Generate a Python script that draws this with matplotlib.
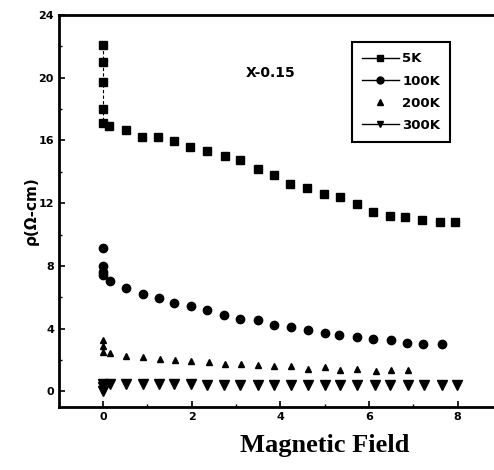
import numpy as np
import matplotlib.pyplot as plt
from matplotlib.lines import Line2D

# 5K
field_5k = [0, 0, 0, 0, 0, 0.14, 0.52, 0.87, 1.23, 1.59, 1.96, 2.35, 2.74, 3.1,
            3.5, 3.85, 4.22, 4.6, 4.98, 5.35, 5.73, 6.1, 6.48, 6.82, 7.19, 7.6, 7.95]
rho_5k = [22.1, 21.0, 19.75, 18.0, 17.1, 16.9, 16.65, 16.2, 16.2, 15.95, 15.6, 15.35, 15.0, 14.75,
          14.2, 13.8, 13.25, 13.0, 12.6, 12.4, 11.97, 11.45, 11.2, 11.1, 10.9, 10.8, 10.8]

# 100K
field_100k = [0, 0, 0, 0, 0.16, 0.52, 0.9, 1.25, 1.6, 1.98, 2.35, 2.73, 3.09,
              3.5, 3.85, 4.24, 4.63, 5.01, 5.33, 5.73, 6.1, 6.49, 6.85, 7.21, 7.64]
rho_100k = [9.17, 7.98, 7.6, 7.4, 7.04, 6.6, 6.22, 5.95, 5.63, 5.42, 5.17, 4.9, 4.64,
            4.53, 4.25, 4.1, 3.94, 3.72, 3.57, 3.47, 3.36, 3.25, 3.08, 3.04, 3.04]

# 200K
field_200k = [0, 0, 0, 0.16, 0.52, 0.9, 1.29, 1.63, 1.98, 2.38, 2.75, 3.11,
              3.5, 3.85, 4.24, 4.63, 5.01, 5.35, 5.73, 6.15, 6.49, 6.89]
rho_200k = [3.3, 2.9, 2.5, 2.44, 2.23, 2.19, 2.09, 1.98, 1.93, 1.87, 1.77, 1.77,
            1.66, 1.6, 1.6, 1.45, 1.55, 1.38, 1.45, 1.3, 1.34, 1.34]

# 300K
field_300k = [0, 0, 0, 0.16, 0.52, 0.9, 1.25, 1.6, 1.98, 2.35, 2.73, 3.1,
              3.5, 3.85, 4.24, 4.63, 5.0, 5.35, 5.73, 6.13, 6.47, 6.89, 7.24, 7.64, 7.98]
rho_300k = [0.5, 0.25, 0.0, 0.47, 0.47, 0.45, 0.45, 0.44, 0.45, 0.43, 0.43, 0.43,
            0.42, 0.42, 0.42, 0.42, 0.42, 0.42, 0.42, 0.42, 0.42, 0.42, 0.42, 0.42, 0.42]

labels = ["5K", "100K", "200K", "300K"]

fig = plt.figure(figsize=(4.94, 4.70), dpi=100)
ax = fig.add_axes([0.119, 0.134, 0.881, 0.834])

# short connecting segment of the 5K points at zero field
ax.plot(field_5k[:5], rho_5k[:5], '-', color='black', lw=0.8, dashes=(3, 2))

ax.plot(field_5k, rho_5k, 's', color='black', ms=6, ls='none')
ax.plot(field_100k, rho_100k, 'o', color='black', ms=6, ls='none')
ax.plot(field_200k, rho_200k, '^', color='black', ms=5, ls='none')
ax.plot(field_300k, rho_300k, 'v', color='black', ms=6.5, ls='none')

ax.set_xlim(-1, 8.82)
ax.set_ylim(-1, 24)
ax.set_xticks([0, 2, 4, 6, 8])
ax.set_xticks([1, 3, 5, 7], minor=True)
ax.set_yticks([0, 4, 8, 12, 16, 20, 24])
ax.set_yticks([2, 6, 10, 14, 18, 22], minor=True)
ax.tick_params(direction='in', width=1.2, length=4, labelsize=8)
ax.tick_params(which='minor', direction='in', width=1, length=2.5)
for lab in ax.get_xticklabels() + ax.get_yticklabels():
    lab.set_fontweight('bold')

for s in ['top', 'left', 'bottom']:
    ax.spines[s].set_linewidth(2)
ax.spines['right'].set_visible(False)

ax.text(3.77, 20.3, "X-0.15", fontsize=10, fontweight='bold', ha='center', va='center')

ax.set_ylabel("ρ(Ω-cm)", fontsize=11, fontweight='bold', labelpad=0)
ax.set_xlabel("Magnetic Field", fontsize=19, fontweight='bold',
              family='Liberation Serif')
ax.xaxis.set_label_coords(0.61, -0.07)

handles = [
    Line2D([], [], color='black', lw=1, marker='s', ms=5),
    Line2D([], [], color='black', lw=1, marker='o', ms=5),
    Line2D([], [], color='black', lw=0, marker='^', ms=5),
    Line2D([], [], color='black', lw=1, marker='v', ms=5),
]
leg = ax.legend(handles, labels, loc='upper left', bbox_to_anchor=(0.673, 0.93),
                fancybox=False, edgecolor='black', framealpha=1,
                prop={'weight': 'bold', 'size': 9.5}, handlelength=2.8,
                borderpad=0.75, labelspacing=0.7, handletextpad=0.3,
                borderaxespad=0)
leg.get_frame().set_linewidth(1.5)

fig.savefig("out.png", dpi=100)
